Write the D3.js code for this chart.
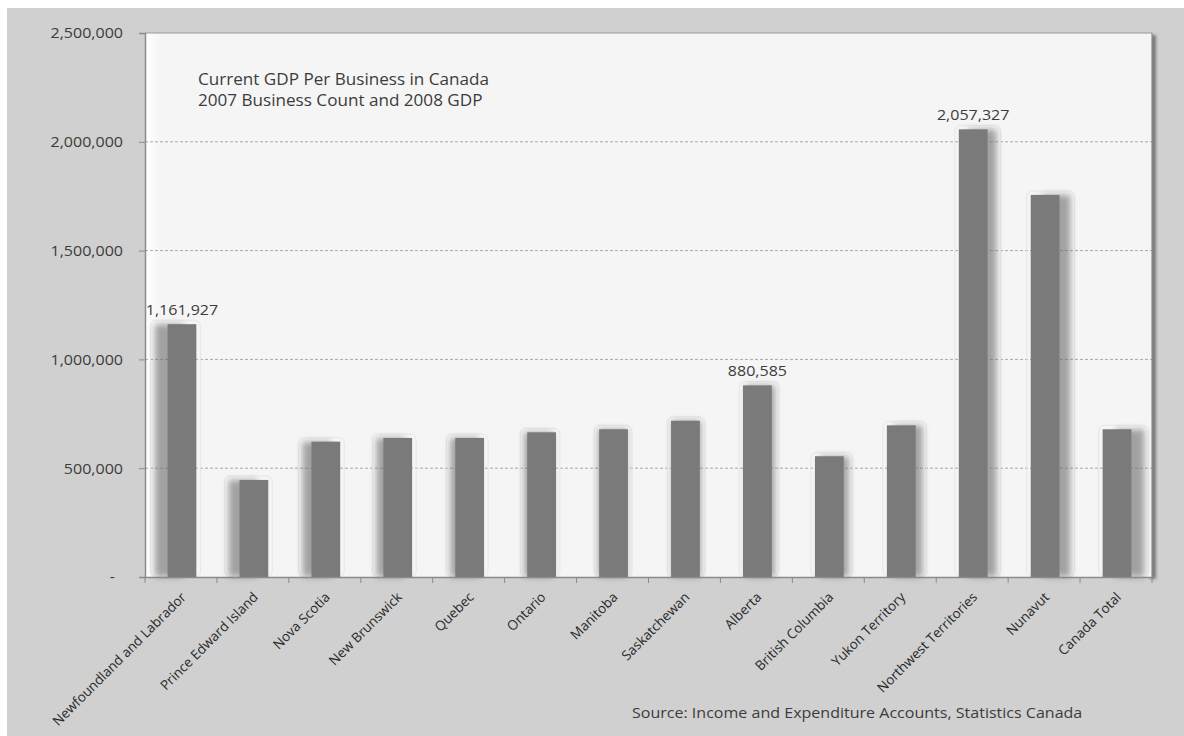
<!DOCTYPE html>
<html>
<head>
<meta charset="utf-8">
<script src="https://cdn.jsdelivr.net/npm/d3@7"></script>
<style>
  body { margin: 0; background: #ffffff; }
  svg { display: block; }
</style>
</head>
<body>
<svg id="chart" width="1184" height="736"></svg>
<script>
// Current GDP per business, by province / territory
const provinces = [
  "Newfoundland and Labrador", "Prince Edward Island", "Nova Scotia", "New Brunswick",
  "Quebec", "Ontario", "Manitoba", "Saskatchewan", "Alberta", "British Columbia",
  "Yukon Territory", "Northwest Territories", "Nunavut", "Canada Total"
];
const gdpPerBusiness = [
  1161927, 446000, 622000, 639000,
  639000, 665000, 679000, 718000, 880585, 555000,
  697000, 2057327, 1756000, 679000
];
const yTicks = [0, 500000, 1000000, 1500000, 2000000, 2500000];
const labelledProvinces = ["Newfoundland and Labrador", "Alberta", "Northwest Territories"];
const titleLines = ["Current GDP Per Business in Canada", "2007 Business Count and 2008 GDP"];
const sourceNote = "Source: Income and Expenditure Accounts, Statistics Canada";

const W = 1184, H = 736;
const plot = { left: 145, top: 33, right: 1152, bottom: 577 };
const FONT = "'Open Sans', 'Liberation Sans', sans-serif";
const TEXT = "#3c3c3c";
const STRETCH = 1.07;   // slightly wide lettering

const svg = d3.select("#chart");
const defs = svg.append("defs");

defs.append("filter").attr("id", "soft").attr("x", "-50%").attr("y", "-10%")
  .attr("width", "200%").attr("height", "120%")
  .append("feGaussianBlur").attr("stdDeviation", 3.4);

defs.append("filter").attr("id", "frameShadow").attr("x", "-50%").attr("y", "-5%")
  .attr("width", "200%").attr("height", "110%")
  .append("feGaussianBlur").attr("stdDeviation", 1.6);

const leftGlow = defs.append("linearGradient").attr("id", "leftGlow")
  .attr("x1", 0).attr("x2", 1).attr("y1", 0).attr("y2", 0);
leftGlow.append("stop").attr("offset", "0%").attr("stop-color", "#ffffff").attr("stop-opacity", 1);
leftGlow.append("stop").attr("offset", "100%").attr("stop-color", "#ffffff").attr("stop-opacity", 0);

// place a text node at (x, y) with the horizontal stretch applied
function placeText(sel, xf, yf) {
  sel.attr("x", 0).attr("y", 0)
    .attr("transform", (d, i) => `translate(${xf(d, i)},${yf(d, i)}) scale(${STRETCH},1)`);
}

// outer grey panel
svg.append("rect").attr("x", 7).attr("y", 8).attr("width", W - 7).attr("height", H - 8)
  .attr("fill", "#d0d0d0");

// plot frame shadow on the right edge
svg.append("rect")
  .attr("x", plot.right - 2).attr("y", plot.top + 2)
  .attr("width", 6).attr("height", plot.bottom - plot.top)
  .attr("fill", "#7a7a7a").attr("filter", "url(#frameShadow)");

// plot area
svg.append("rect")
  .attr("x", plot.left).attr("y", plot.top)
  .attr("width", plot.right - plot.left).attr("height", plot.bottom - plot.top)
  .attr("fill", "#f5f5f5");
svg.append("rect")
  .attr("x", plot.left).attr("y", plot.top)
  .attr("width", 16).attr("height", plot.bottom - plot.top)
  .attr("fill", "url(#leftGlow)");

const x = d3.scaleBand().domain(provinces).range([plot.left, plot.right]).padding(0);
const y = d3.scaleLinear().domain([0, 2500000]).range([plot.bottom, plot.top]);

// gridlines
svg.append("g")
  .selectAll("line")
  .data(yTicks.filter(v => v > 0 && v < 2500000))
  .join("line")
  .attr("x1", plot.left).attr("x2", plot.right)
  .attr("y1", d => y(d)).attr("y2", d => y(d))
  .attr("stroke", "#a8a8a8").attr("stroke-width", 1)
  .attr("stroke-dasharray", "3,2");

// frame top + right border
svg.append("line").attr("x1", plot.left).attr("x2", plot.right)
  .attr("y1", plot.top).attr("y2", plot.top)
  .attr("stroke", "#9a9a9a").attr("stroke-width", 1.2);
svg.append("line").attr("x1", plot.right).attr("x2", plot.right)
  .attr("y1", plot.top).attr("y2", plot.bottom)
  .attr("stroke", "#8c8c8c").attr("stroke-width", 1.2);

// bars
const bw = x.bandwidth() * 0.4;
const n = provinces.length;
const barData = provinces.map((p, i) => ({ name: p, value: gdpPerBusiness[i], i }));
const shift = i => (i - (n - 1) / 2) * 2.0;

const bars = svg.append("g");
const barX = d => x(d.name) + (x.bandwidth() - bw) / 2 + 1;

// faint outline around each bar's shadow area
bars.selectAll("rect.outline")
  .data(barData)
  .join("rect")
  .attr("class", "outline")
  .attr("x", d => barX(d) + Math.min(shift(d.i), 0) - 4)
  .attr("y", d => y(d.value) - 4)
  .attr("width", d => bw + Math.abs(shift(d.i)) + 8)
  .attr("height", d => plot.bottom - y(d.value) + 4)
  .attr("rx", 6)
  .attr("fill", "none")
  .attr("stroke", "#e6e6e6").attr("stroke-width", 1);

// soft shadows
bars.selectAll("rect.shadow")
  .data(barData)
  .join("rect")
  .attr("class", "shadow")
  .attr("x", d => barX(d) + shift(d.i))
  .attr("y", d => y(d.value))
  .attr("width", bw)
  .attr("height", d => plot.bottom - y(d.value))
  .attr("fill", "#6a6a6a").attr("opacity", 0.6)
  .attr("filter", "url(#soft)");

bars.selectAll("rect.bar")
  .data(barData)
  .join("rect")
  .attr("class", "bar")
  .attr("x", d => barX(d))
  .attr("y", d => y(d.value))
  .attr("width", bw)
  .attr("height", d => plot.bottom - y(d.value))
  .attr("fill", "#7a7a7a");

// value labels
svg.append("g")
  .selectAll("text")
  .data(barData.filter(d => labelledProvinces.includes(d.name)))
  .join("text")
  .call(placeText, d => barX(d) + bw / 2, d => y(d.value) - 9)
  .attr("text-anchor", "middle")
  .attr("font-family", FONT).attr("font-size", 15)
  .attr("fill", TEXT)
  .text(d => d3.format(",")(d.value));

// y axis
const yAxis = d3.axisLeft(y)
  .tickValues(yTicks)
  .tickSize(6)
  .tickPadding(16)
  .tickFormat(v => v === 0 ? "-" : d3.format(",")(v));
const gy = svg.append("g").attr("transform", `translate(${plot.left},0)`).call(yAxis);
gy.select(".domain").attr("stroke", "#8a8a8a").attr("stroke-width", 1.5);
gy.selectAll(".tick line").attr("stroke", "#8a8a8a");
gy.selectAll(".tick text")
  .attr("x", null)
  .attr("transform", d => `translate(${d === 0 ? -30 : -22},0) scale(${STRETCH},1)`)
  .attr("font-family", FONT).attr("font-size", 15).attr("fill", TEXT);

// x axis
const xAxis = d3.axisBottom(x).tickSize(0).tickFormat("");
const gx = svg.append("g").attr("transform", `translate(0,${plot.bottom})`).call(xAxis);
gx.select(".domain").attr("stroke", "#8a8a8a").attr("stroke-width", 1.5);
// boundary ticks between categories
gx.append("g").selectAll("line")
  .data(provinces.map(p => x(p)).concat([plot.right]))
  .join("line")
  .attr("x1", d => d).attr("x2", d => d)
  .attr("y1", 0).attr("y2", 6)
  .attr("stroke", "#8a8a8a");

// rotated category labels
svg.append("g")
  .selectAll("text")
  .data(provinces)
  .join("text")
  .attr("transform", p => `translate(${x(p) + x.bandwidth() / 2 + 6},${plot.bottom + 21}) rotate(-45)`)
  .attr("text-anchor", "end")
  .attr("font-family", FONT).attr("font-size", 13.5)
  .attr("fill", "#2a2a2a")
  .text(p => p);

// chart title inside the plot
svg.append("g")
  .selectAll("text")
  .data(titleLines)
  .join("text")
  .call(placeText, () => 198, (d, i) => 85 + i * 21)
  .attr("font-family", FONT).attr("font-size", 16)
  .attr("fill", TEXT)
  .text(d => d);

// source note
svg.append("text")
  .call(placeText, () => 632, () => 718)
  .attr("font-family", FONT).attr("font-size", 15)
  .attr("fill", TEXT)
  .text(sourceNote);
</script>
</body>
</html>
